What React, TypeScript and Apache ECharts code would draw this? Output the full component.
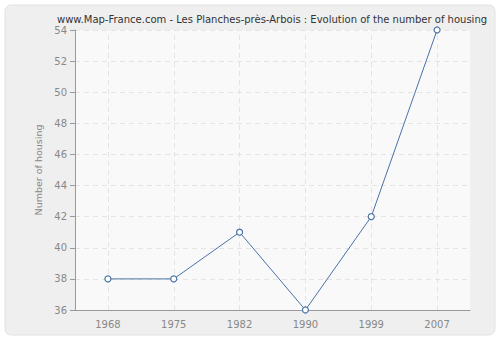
import React, { useEffect, useRef } from "react";
import * as echarts from "echarts";

const titleText = "www.Map-France.com - Les Planches-près-Arbois : Evolution of the number of housing";
const yAxisName = "Number of housing";
const years = ["1968", "1975", "1982", "1990", "1999", "2007"];
const housing = [38, 38, 41, 36, 42, 54];

export default function App() {
  const ref = useRef<HTMLDivElement>(null);
  useEffect(() => {
    if (!ref.current) return;
    const chart = echarts.init(ref.current, null, { renderer: "svg" });
    chart.setOption({
      animation: false,
      backgroundColor: "#ffffff",
      graphic: [
        {
          type: "rect",
          z: -10,
          shape: { x: 5, y: 5, width: 490, height: 330, r: 6 },
          style: { fill: "#efefef", stroke: "#e2e2e2", lineWidth: 1 },
        },
      ],
      title: {
        text: titleText,
        left: 267,
        top: 9,
        textAlign: "center",
        textStyle: { fontFamily: "DejaVu Sans", fontSize: 10, fontWeight: "normal", color: "#333" },
      },
      grid: { left: 75, right: 30, top: 30, bottom: 30, show: true, backgroundColor: "#f9f9f9", borderWidth: 0 },
      xAxis: {
        type: "category",
        data: years,
        boundaryGap: true,
        axisLine: { lineStyle: { color: "#999" } },
        axisTick: { alignWithLabel: true, interval: 0, length: 5, lineStyle: { color: "#999" } },
        axisLabel: { color: "#888", fontFamily: "DejaVu Sans", fontSize: 10, margin: 9, interval: 0 },
        splitLine: { show: false },
      },
      yAxis: {
        type: "value",
        min: 36,
        max: 54,
        interval: 2,
        name: yAxisName,
        nameLocation: "middle",
        nameGap: 25,
        nameTextStyle: { color: "#888", fontFamily: "DejaVu Sans", fontSize: 9.5 },
        axisLine: { show: true, lineStyle: { color: "#999" } },
        axisTick: { show: true, length: 5, lineStyle: { color: "#999" } },
        axisLabel: { color: "#888", fontFamily: "DejaVu Sans", fontSize: 10, margin: 8 },
        splitLine: { show: true, lineStyle: { color: "#e4e4e4", type: [5, 4] } },
      },
      series: [
        {
          type: "line",
          data: housing,
          symbol: "circle",
          symbolSize: 6,
          itemStyle: { color: "#ffffff", borderColor: "#4a72a6", borderWidth: 1.2 },
          lineStyle: { color: "#4a72a6", width: 1 },
          markLine: {
            silent: true,
            symbol: "none",
            label: { show: false },
            lineStyle: { color: "#e4e4e4", type: [5, 4], width: 1 },
            data: years.map((y) => ({ xAxis: y })),
            z: 1,
          },
        },
      ],
    });
    return () => chart.dispose();
  }, []);
  return <div ref={ref} style={{ position: "fixed", left: 0, top: 0, width: 500, height: 340 }} />;
}
